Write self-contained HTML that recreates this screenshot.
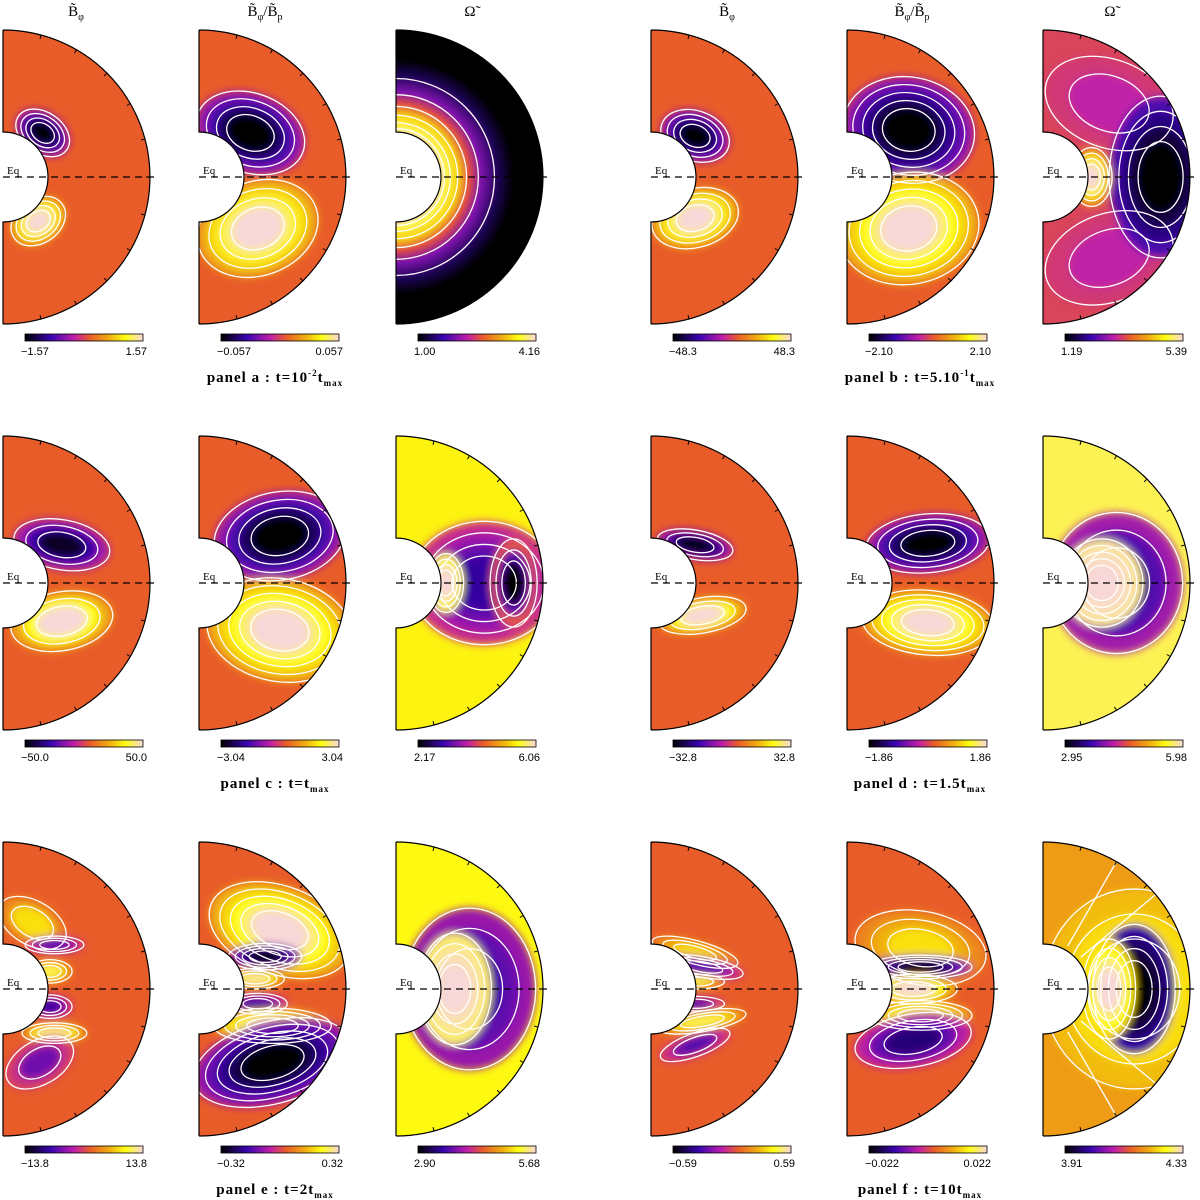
<!DOCTYPE html>
<html><head><meta charset="utf-8"><style>
html,body{margin:0;padding:0;background:#fff;}
svg{display:block;font-family:"Liberation Serif",serif;}
</style></head><body>
<svg id="fig" width="1200" height="1200" viewBox="0 0 1200 1200" xmlns="http://www.w3.org/2000/svg">
<defs>
<filter id="blur" x="-20%" y="-20%" width="140%" height="140%"><feGaussianBlur stdDeviation="4"/></filter>
<linearGradient id="cmap" x1="0" x2="1" y1="0" y2="0">
<stop offset="0" stop-color="#000000"/><stop offset="0.22" stop-color="#3a06b0"/><stop offset="0.42" stop-color="#c020a8"/><stop offset="0.55" stop-color="#e85c2a"/><stop offset="0.72" stop-color="#f0b010"/><stop offset="0.85" stop-color="#ffff10"/><stop offset="1" stop-color="#f8d8d8"/>
</linearGradient>
</defs>
</svg>
<script>
// Colorbar tick labels per panel (min, max) for three columns
const panels = ['a','b','c','d','e','f'];
const captions = ['t=10','t=5.10','t=t','t=1.5t','t=2t','t=10t'];
const capSup = ['-2','-1','','','',''];
const minLabels = [['-1.57','-0.057','1.00'],['-48.3','-2.10','1.19'],['-50.0','-3.04','2.17'],['-32.8','-1.86','2.95'],['-13.8','-0.32','2.90'],['-0.59','-0.022','3.91']];
const maxLabels = [['1.57','0.057','4.16'],['48.3','2.10','5.39'],['50.0','3.04','6.06'],['32.8','1.86','5.98'],['13.8','0.32','5.68'],['0.59','0.022','4.33']];
const bgValues = [[0.55,0.55,null],[0.55,0.55,0.5],[0.55,0.55,0.83],[0.55,0.55,0.9],[0.55,0.55,0.84],[0.55,0.55,0.68]];

const stops=[[0,[0,0,0]],[0.22,[58,6,176]],[0.42,[192,32,168]],[0.55,[232,92,42]],[0.72,[240,176,16]],[0.85,[255,255,16]],[1,[248,216,216]]];
function cm(v){v=Math.max(0,Math.min(1,v));for(let i=1;i<stops.length;i++){if(v<=stops[i][0]){const a=stops[i-1],b=stops[i],t=(v-a[0])/(b[0]-a[0]);return 'rgb('+a[1].map((c,j)=>Math.round(c+(b[1][j]-c)*t)).join(',')+')';}}return 'rgb(248,216,216)';}

// blob specs: [x,y,rx,ry,rot,n,peak,start] in units of R (center at equator, y down)
const blobs = {
 'a0':[[.27,-.3,.2,.14,35,4,0],[.24,.3,.2,.15,-35,4,1]],
 'a1':[[.35,-.3,.38,.27,20,4,0],[.4,.35,.42,.32,-20,4,1]],
 'b0':[[.3,-.28,.24,.17,20,4,0],[.3,.28,.3,.2,-15,4,1]],
 'b1':[[.42,-.32,.45,.36,10,5,0],[.42,.35,.48,.38,-10,5,1]],
 'b2':[[.45,-.5,.45,.3,20,2,.42],[.45,.55,.45,.3,-20,2,.42],[.8,0,.35,.55,0,4,0,.5],[.33,0,.14,.2,0,4,1]],
 'c0':[[.4,-.26,.33,.17,10,3,0.05],[.4,.26,.35,.2,-10,3,1]],
 'c1':[[.55,-.32,.45,.3,-10,4,0],[.55,.32,.5,.35,10,5,1]],
 'c2':[[.6,0,.5,.42,0,4,.2,.6],[.8,0,.16,.3,0,3,0],[.34,0,.12,.2,0,4,1]],
 'd0':[[.3,-.26,.26,.1,10,3,0],[.35,.22,.3,.12,-10,3,1]],
 'd1':[[.55,-.27,.42,.2,-5,4,0],[.55,.27,.45,.22,5,5,1]],
 'd2':[[.5,0,.45,.48,0,3,.15,.7],[.4,0,.28,.3,0,5,1,.5]],
 'e0':[[.2,-.45,.25,.15,30,2,.8],[.35,-.3,.2,.06,0,3,.25],[.32,-.12,.15,.08,0,3,.9],[.32,.12,.15,.08,0,3,.2],[.35,.3,.22,.07,0,3,.95],[.25,.5,.25,.15,-30,2,.3]],
 'e1':[[.55,-.4,.5,.3,20,5,1],[.45,-.22,.25,.09,0,4,0],[.38,-.07,.2,.07,0,3,.95],[.4,.1,.2,.07,0,3,.2],[.5,.25,.4,.12,0,4,1],[.5,.5,.55,.28,-15,5,0]],
 'e2':[[.5,0,.45,.55,0,3,.2,.75],[.4,0,.25,.38,0,4,1,.5]],
 'f0':[[.3,-.25,.3,.08,15,3,.8],[.35,-.15,.28,.07,10,3,.25],[.3,-.05,.2,.05,0,2,.9],[.3,.1,.2,.05,0,2,.25],[.35,.22,.3,.07,-10,3,.9],[.3,.38,.25,.08,-20,2,.25]],
 'f1':[[.5,-.28,.45,.25,10,3,.8],[.5,-.15,.35,.08,0,4,0],[.45,0,.3,.1,0,3,1],[.5,.18,.35,.1,0,4,.95],[.45,.35,.4,.18,-10,3,.15]],
 'f2':[[.62,0,.62,.68,0,3,.85],[.62,0,.28,.44,0,4,0,.7],[.45,0,.18,.34,0,4,1]]
};

const svg=document.getElementById('fig');
const NS='http://www.w3.org/2000/svg';
function el(tag,attrs,parent){const e=document.createElementNS(NS,tag);for(const k in attrs)e.setAttribute(k,attrs[k]);(parent||svg).appendChild(e);return e;}
const colX=[3,199,396,651,847,1043];
const rowY=[177,583,989];
const R=147, r=45;
const defs=svg.querySelector('defs');

function drawSub(p,c){
 const row=Math.floor(p/2), side=p%2, cx=colX[side*3+c], cy=rowY[row];
 const key=panels[p]+c;
 const g=el('g',{});
 
 
 const clipId='clip'+key;
 const cp=el('clipPath',{id:clipId},defs);
 el('path',{d:`M${cx},${cy-R} A${R},${R} 0 0 1 ${cx},${cy+R} L${cx},${cy+r} A${r},${r} 0 0 0 ${cx},${cy-r} Z`},cp);
 const inner=el('g',{'clip-path':`url(#${clipId})`},g);
 const bgv=bgValues[p][c];
 if(bgv===null){
  const gid='rg'+key;const rg=el('radialGradient',{id:gid,cx:cx,cy:cy,r:R,gradientUnits:'userSpaceOnUse'},defs);
  [[0.28,1],[0.34,.9],[0.42,.78],[0.5,.52],[0.58,.32],[0.7,.1],[0.8,0]].forEach(s=>el('stop',{offset:s[0],'stop-color':cm(s[1])},rg));
  el('rect',{x:cx,y:cy-R,width:R,height:2*R,fill:`url(#${gid})`},inner);
  [0.33,0.37,0.42,0.48,0.56,0.67].forEach(k=>el('circle',{cx:cx,cy:cy,r:k*R,fill:'none',stroke:'#fff','stroke-width':1.3},inner));
 } else {
  el('rect',{x:cx,y:cy-R,width:R,height:2*R,fill:cm(bgv)},inner);
  const fg=el('g',{filter:'url(#blur)'},inner);
  const lines=el('g',{},inner);
  (blobs[key]||[]).forEach(b=>{
   const [bx,by,rx,ry,rot,n,peak]=b; const st=b[7]===undefined?0.35:b[7];
   for(let k=0;k<n;k++){
    const t=n>1?k/(n-1):1, s=1-0.75*(k/n);
    const v=bgv+(peak-bgv)*(st+(1-st)*t);
    const tr=`rotate(${rot} ${cx+bx*R} ${cy+by*R})`;
    el('ellipse',{cx:cx+bx*R,cy:cy+by*R,rx:rx*R*s,ry:ry*R*s,fill:cm(v),transform:tr},fg);
    el('ellipse',{cx:cx+bx*R,cy:cy+by*R,rx:rx*R*s,ry:ry*R*s,fill:'none',stroke:'#fff','stroke-width':1.3,transform:tr},lines);
   }
  });
  if(key==='f2'){[-60,-40,40,60].forEach(a=>{const ar=a*Math.PI/180;el('line',{x1:cx+r*Math.cos(ar)*1.1,y1:cy+r*Math.sin(ar)*1.1,x2:cx+R*Math.cos(ar),y2:cy+R*Math.sin(ar),stroke:'#fff','stroke-width':1.3},lines);});}
 }
 el('path',{d:`M${cx},${cy-R} A${R},${R} 0 0 1 ${cx},${cy+R}`,fill:'none',stroke:'#000','stroke-width':1.2},g);
 el('path',{d:`M${cx},${cy-R} L${cx},${cy-r} A${r},${r} 0 0 1 ${cx},${cy+r} L${cx},${cy+R}`,fill:'none',stroke:'#000','stroke-width':1.2},g);
 for(let a=-75;a<=75;a+=15){const ar=a*Math.PI/180;el('line',{x1:cx+R*Math.cos(ar),y1:cy+R*Math.sin(ar),x2:cx+(R-4)*Math.cos(ar),y2:cy+(R-4)*Math.sin(ar),stroke:'#000','stroke-width':1},g);}
 el('line',{x1:cx,y1:cy,x2:cx+R+4,y2:cy,stroke:'#000','stroke-width':1.2,'stroke-dasharray':'7,5'},g);
 const eq=el('text',{x:cx+4,y:cy-3,'font-size':11,fill:'#000'},g);eq.textContent='Eq';
 
 
 const cb=el('rect',{x:cx+22,y:cy+157,width:118,height:7,fill:'url(#cmap)',stroke:'#000','stroke-width':0.8},g);
 
 
 const t1=el('text',{x:cx+18,y:cy+178,'font-size':11,fill:'#000','font-family':'Liberation Sans, sans-serif'},g);t1.textContent=minLabels[p][c].replace('-','\u2212');
 
 
 const t2=el('text',{x:cx+144,y:cy+178,'font-size':11,fill:'#000','text-anchor':'end','font-family':'Liberation Sans, sans-serif'},g);t2.textContent=maxLabels[p][c];
 
 
}
for(let p=0;p<6;p++){for(let c=0;c<3;c++)drawSub(p,c);
 const row=Math.floor(p/2), side=p%2;
 const tx=side?920:275, ty=rowY[row]+205;
 const t=el('text',{x:tx,y:ty,'font-size':15,'font-weight':'bold','text-anchor':'middle',fill:'#000','letter-spacing':'1'});
 
 
 t.appendChild(document.createTextNode('panel '+panels[p]+' : '+captions[p]));
 if(capSup[p]){const sp=el('tspan',{dy:-6,'font-size':9},t);sp.textContent=capSup[p];const sp2=el('tspan',{dy:6,'font-size':15},t);sp2.textContent='t';}
 const sb=el('tspan',{dy:4,'font-size':9},t);sb.textContent='max';
}
const titles=[[76,'B̃','φ',''],[265,'B̃','φ','/B̃p'],[470,'Ω̃','',''],[727,'B̃','φ',''],[912,'B̃','φ','/B̃p'],[1110,'Ω̃','','']];
titles.forEach((tt,i)=>{
 const t=el('text',{x:tt[0],y:16,'font-size':15,'text-anchor':'middle',fill:'#000'});
 
 
 t.appendChild(document.createTextNode(tt[1]));
 if(tt[2]){const s=el('tspan',{dy:4,'font-size':10},t);s.textContent=tt[2];}
 if(tt[3]){const s=el('tspan',{dy:-4,'font-size':15},t);s.textContent='/B̃';const s2=el('tspan',{dy:4,'font-size':10},t);s2.textContent='p';}
});
</script>
</body></html>
